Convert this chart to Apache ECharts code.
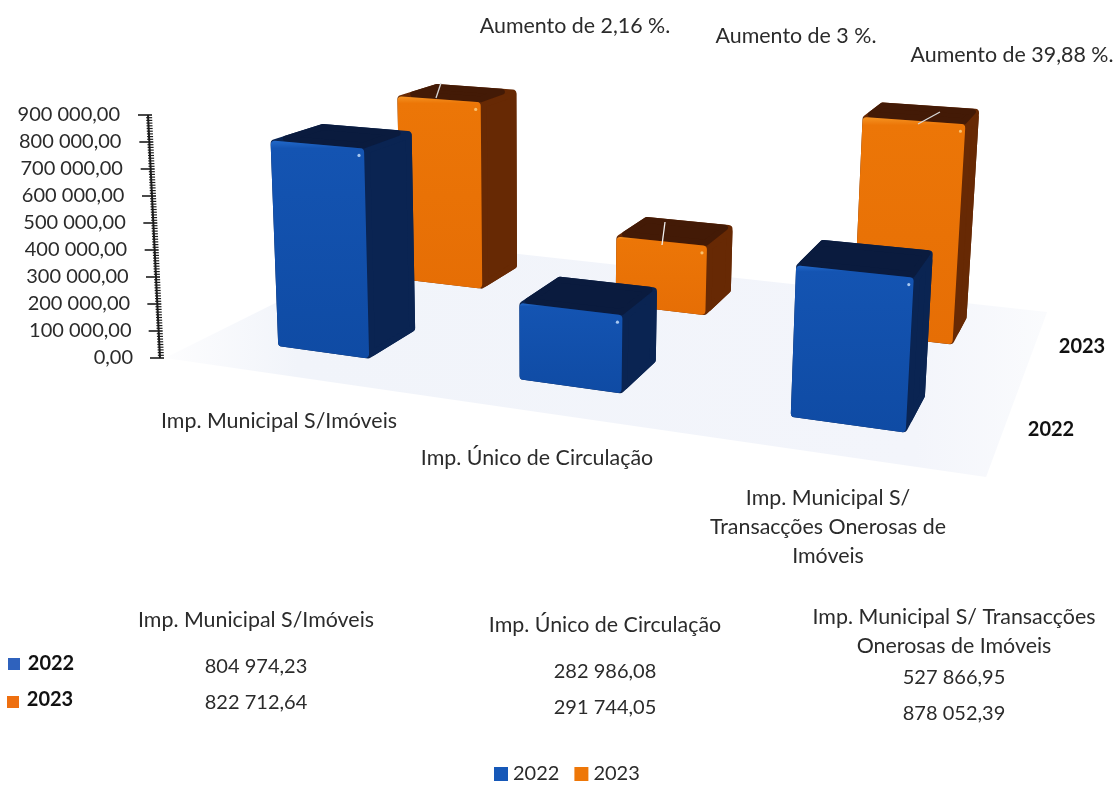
<!DOCTYPE html>
<html><head><meta charset="utf-8">
<style>html,body{margin:0;padding:0;background:#fff}#c{width:1115px;height:785px}</style>
<script src="https://cdn.jsdelivr.net/npm/echarts@6/dist/echarts.min.js"></script>
</head><body><div id="c"></div>
<script>
const categories = ['Imp. Municipal S/Imóveis','Imp. Único de Circulação','Imp. Municipal S/ Transacções Onerosas de Imóveis'];
const axisCategoryLabels = ['Imp. Municipal S/Imóveis','Imp. Único de Circulação','Imp. Municipal S/\nTransacções Onerosas de\nImóveis'];
const tableHeaders = ['Imp. Municipal S/Imóveis','Imp. Único de Circulação','Imp. Municipal S/ Transacções\nOnerosas de Imóveis'];
const values2022 = [804974.23, 282986.08, 527866.95];
const values2023 = [822712.64, 291744.05, 878052.39];
const increases = ['Aumento de 2,16 %.','Aumento de 3 %.','Aumento de 39,88 %.'];
const yTicks = [0,100000,200000,300000,400000,500000,600000,700000,800000,900000];
const FONT = 'Lato, "Open Sans", sans-serif';
const INK = '#2b2b2b';

const fmt = v => { const p = v.toFixed(2).split('.'); return p[0].replace(/\B(?=(\d{3})+$)/g,' ') + ',' + p[1]; };

// Ground-plane perspective (u along categories, v into depth, both 0..1)
const P = {a:655,b:349,d:38.7,e:-48.4,g:-0.1684,h:0.2848,vs:540,lean:7000,k:0.97};
function project(cs,u,v,hpx){
  const w = 1+P.g*u+P.h*v;
  let x = (P.a*u+P.b*v+cs.x)/w, y = (P.d*u+P.e*v+cs.y+cs.height)/w;
  const ht = (hpx||0)*P.k/w;
  x += (x-P.vs)*ht/P.lean;
  return [x, y-ht];
}
const rows = {front:[0.15,0.35], back:[0.686,0.885]};
const looks = {
  '2022':{front:['#2268c8','#1454b2','#0f4ba4'],side:'#0a2452',top:'#0a1b3e',spark:'#a8c8f0'},
  '2023':{front:['#f59322','#ec7607','#e66e05'],side:'#672904',top:'#431a06',spark:'#f8c070'}
};
// Shrink a convex polygon by moving every edge inwards by d
function offsetPoly(pts,d){
  const n = pts.length;
  let area = 0;
  for(let i=0;i<n;i++){const a=pts[i],b=pts[(i+1)%n];area+=a[0]*b[1]-b[0]*a[1];}
  const s = area>0?1:-1;
  const lines = pts.map((a,i)=>{
    const b=pts[(i+1)%n], dx=b[0]-a[0], dy=b[1]-a[1], l=Math.hypot(dx,dy)||1;
    const nx=-dy/l*s, ny=dx/l*s;
    return {x:a[0]+nx*d,y:a[1]+ny*d,dx,dy};
  });
  return lines.map((L,i)=>{
    const M = lines[(i+n-1)%n];
    const den = M.dx*L.dy-M.dy*L.dx;
    if(Math.abs(den)<1e-6) return [L.x,L.y];
    const t = ((L.x-M.x)*L.dy-(L.y-M.y)*L.dx)/den;
    return [M.x+M.dx*t,M.y+M.dy*t];
  });
}
function barRenderer(row,look){
  return function(params,api){
    const cs = params.coordSys;
    const cat = api.value(0), val = api.value(1);
    const cx = api.coord([cat,0])[0];
    const band = api.size([1,0])[0];
    const u0 = (cx-band*0.195-cs.x)/cs.width+0.002, u1 = (cx+band*0.195-cs.x)/cs.width+0.002;
    const hpx = api.size([0,val])[1];
    const [v0,v1] = row;
    const b = (u,v)=>project(cs,u,v,0), t = (u,v)=>project(cs,u,v,hpx);
    const poly = (pts,fill,r)=>({type:'polygon',shape:{points:offsetPoly(pts,r)},
      style:{fill:fill,stroke:fill,lineWidth:r*2,lineJoin:'round'}});
    const frTop = t(u1,v0);
    const grad = new echarts.graphic.LinearGradient(0,0,0,1,[
      {offset:0,color:look.front[0]},{offset:0.035,color:look.front[1]},{offset:1,color:look.front[2]}]);
    const hull = [b(u0,v0),b(u1,v0),b(u1,v1),t(u1,v1),t(u0,v1),t(u0,v0)];
    return {type:'group',children:[
      poly(hull,look.side,4),
      poly([b(u1,v0),b(u1,v1),t(u1,v1),t(u1,v0)],look.side,3),
      poly([t(u0,v0),t(u1,v0),t(u1,v1),t(u0,v1)],look.top,3),
      poly([b(u0,v0),b(u1,v0),t(u1,v0),t(u0,v0)],grad,4),
      {type:'circle',shape:{cx:frTop[0]-5,cy:frTop[1]+7,r:1.6},style:{fill:look.spark}}
    ]};
  };
}
function floorRenderer(params,api){
  const cs = params.coordSys;
  const pts = [[0,0],[1,0],[1,1],[0,1]].map(p=>project(cs,p[0],p[1],0));
  return {type:'polygon',shape:{points:pts},silent:true,style:{
    fill:new echarts.graphic.LinearGradient(0,0,1,0,[
      {offset:0,color:'#fdfdfe'},{offset:0.15,color:'#f1f4fa'},{offset:0.85,color:'#f3f5fb'},{offset:1,color:'#fafbfd'}])}};
}
function axisRenderer(params,api){
  const cs = params.coordSys;
  const top = yTicks[yTicks.length-1];
  const ax = v => cs.x-5-12*(v/top);
  const line = (x1,y1,x2,y2,w)=>({type:'line',shape:{x1,y1,x2,y2},style:{stroke:'#1c1c1c',lineWidth:w}});
  const kids = [];
  const y0 = api.coord([0,0])[1], y1 = api.coord([0,top])[1];
  kids.push(line(ax(0),y0,ax(top),y1,2));
  yTicks.forEach((v,i)=>{
    const y = api.coord([0,v])[1], x = ax(v);
    kids.push(line(x-10,y,x+4,y,1.6));
    if(i<yTicks.length-1){
      for(let m=1;m<10;m++){
        const mv = v+(yTicks[i+1]-v)*m/10, my = api.coord([0,mv])[1], mx = ax(mv);
        kids.push(line(mx-2,my,mx+4,my,1.2));
      }
    }
  });
  return {type:'group',silent:true,children:kids};
}
const txt = (text,cx,cy,opt)=>({type:'text',x:cx,y:cy,silent:true,style:Object.assign({
  text:text,fill:INK,font:'21.4px '+FONT,align:'center',verticalAlign:'middle',lineHeight:29},opt||{})});
const num = {font:'20px '+FONT}, bold = {font:'bold 20px '+FONT,fill:'#111'};
const gText = [
  txt(increases[0],575,26), txt(increases[1],796,36), txt(increases[2],1012,55),
  txt(axisCategoryLabels[0],279,421), txt(axisCategoryLabels[1],537,458), txt(axisCategoryLabels[2],828,527),
  txt('2023',1082,347,bold), txt('2022',1051,430,bold),
  txt(tableHeaders[0],256,620), txt(tableHeaders[1],605,625), txt(tableHeaders[2],954,632),
  txt(fmt(values2022[0]),256,667,num), txt(fmt(values2023[0]),256,703,num),
  txt(fmt(values2022[1]),605,672,num), txt(fmt(values2023[1]),605,708,num),
  txt(fmt(values2022[2]),954,678,num), txt(fmt(values2023[2]),954,714,num),
  txt('2022',51,664,bold), txt('2023',50,700,bold),
  {type:'rect',silent:true,shape:{x:8,y:658,width:12,height:12},style:{fill:'#2f62bd'}},
  {type:'rect',silent:true,shape:{x:7,y:696,width:12,height:12},style:{fill:'#ee6f10'}},
  {type:'line',silent:true,z:20,shape:{x1:436,y1:98,x2:441,y2:83},style:{stroke:'#d8d8d8',lineWidth:1.3}},
  {type:'line',silent:true,z:20,shape:{x1:662,y1:245,x2:665,y2:222},style:{stroke:'#f0f0f0',lineWidth:1.3}},
  {type:'line',silent:true,z:20,shape:{x1:918,y1:124,x2:940,y2:112},style:{stroke:'#d8d8d8',lineWidth:1.3}}
];
const richMap = {};
yTicks.forEach((v,i)=>{ richMap['t'+i]={fontFamily:FONT,fontSize:20,color:INK,padding:[0,13*v/900000,0,0]}; });

const chart = echarts.init(document.getElementById('c'));
chart.setOption({
  animation:false,
  backgroundColor:'#ffffff',
  legend:{data:['2022','2023'],icon:'rect',left:489,top:759,itemWidth:14,itemHeight:14,itemGap:15,selectedMode:false,
    textStyle:{fontFamily:FONT,fontSize:20,color:INK}},
  grid:{left:165,right:129,top:115,bottom:427},
  xAxis:{type:'category',data:categories,show:false},
  yAxis:{type:'value',min:0,max:900000,interval:100000,
    axisLine:{show:false},axisTick:{show:false},splitLine:{show:false},
    axisLabel:{margin:32,fontFamily:FONT,fontSize:20,formatter:(v)=>{const i=yTicks.indexOf(v);return '{t'+i+'|'+fmt(v)+'}';},rich:richMap}},
  graphic:{elements:gText},
  series:[
    {type:'custom',name:'floor',z:1,renderItem:floorRenderer,data:[[0,0]],silent:true,encode:{x:0,y:1}},
    {type:'custom',name:'axis',z:2,renderItem:axisRenderer,data:[[0,0]],silent:true,clip:false,encode:{x:0,y:1}},
    {type:'custom',name:'2023',z:3,clip:false,itemStyle:{color:'#ee7708'},renderItem:barRenderer(rows.back,looks['2023']),
      data:values2023.map((v,i)=>[i,v]),encode:{x:0,y:1}},
    {type:'custom',name:'2022',z:4,clip:false,itemStyle:{color:'#1658b8'},renderItem:barRenderer(rows.front,looks['2022']),
      data:values2022.map((v,i)=>[i,v]),encode:{x:0,y:1}}
  ]
});
</script></body></html>
